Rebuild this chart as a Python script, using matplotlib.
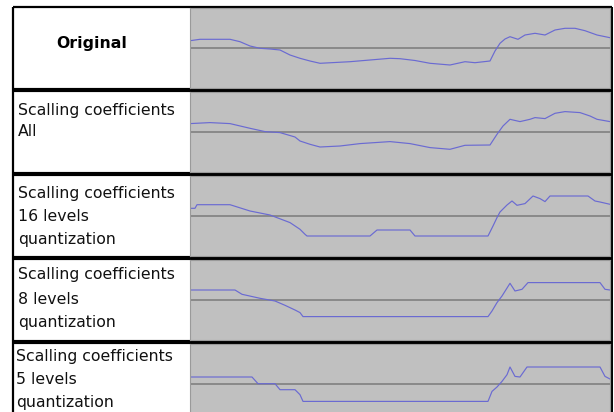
import numpy as np
import matplotlib
matplotlib.use("Agg")
import matplotlib.pyplot as plt

# sample positions / amplitudes
orig_x = [0, 10, 40, 50, 60, 70, 80, 90, 100, 110, 120, 130, 145, 160, 180, 200, 210,
          225, 240, 260, 275, 285, 300, 305, 310, 315, 320, 328, 335, 345, 355, 365,
          375, 385, 395, 407, 420]
orig_y = [7.3, 8.7, 8.7, 6.3, 2.0, -0.3, -1.0, -2.0, -7.0, -10.3, -13.0, -15.3, -14.5,
          -13.7, -12.0, -10.3, -10.7, -12.5, -15.3, -17.0, -13.7, -14.7, -13.0, -3.0,
          4.7, 9.0, 11.3, 8.7, 13.0, 14.7, 13.0, 18.0, 19.7, 19.7, 17.3, 13.0, 10.3]

all_x = [0, 20, 40, 60, 75, 90, 105, 110, 120, 130, 150, 170, 200, 220, 240, 260, 275,
         300, 307, 313, 320, 330, 340, 345, 355, 365, 375, 390, 400, 407, 420]
all_y = [8.4, 9.4, 8.4, 3.7, 0.4, -0.6, -5.0, -9.0, -12.3, -15.0, -14.0, -11.6, -9.6,
         -11.6, -15.6, -17.3, -13.3, -13.0, -2.3, 6.0, 12.7, 10.4, 12.7, 14.4, 13.4,
         18.7, 20.4, 19.4, 16.0, 12.7, 10.4]

q16_x = [0, 5, 7, 40, 60, 80, 100, 110, 115, 117, 180, 187, 220, 225, 298, 303, 307,
         310, 317, 322, 327, 335, 343, 350, 355, 360, 398, 405, 410, 420]
q16_y = [7.7, 7.7, 11.3, 11.3, 5.0, 1.0, -6.6, -13.3, -18.3, -20.0, -20.0, -14.0, -14.0,
         -20.0, -20.0, -10.0, -1.6, 4.0, 11.0, 15.0, 10.7, 12.4, 20.0, 17.4, 14.4, 20.0,
         20.0, 15.0, 14.0, 11.7]

q8_x = [0, 45, 52, 70, 85, 95, 105, 110, 113, 115, 298, 302, 307, 312, 320, 325, 332,
        338, 410, 415, 420]
q8_y = [10.0, 10.0, 5.7, 1.7, -1.0, -5.3, -10.0, -12.6, -16.6, -16.6, -16.6, -11.0,
        -2.6, 4.0, 16.7, 9.0, 10.7, 17.4, 17.4, 10.7, 10.0]

q5_x = [0, 62, 68, 85, 90, 105, 110, 113, 115, 298, 302, 307, 312, 317, 320, 325, 330,
        337, 410, 415, 420]
q5_y = [7.0, 7.0, 0.3, 0.3, -5.7, -5.7, -10.7, -17.4, -17.4, -17.4, -7.4, -3.0, 2.6,
        9.3, 17.0, 7.6, 7.0, 17.0, 17.0, 7.6, 5.0]

row_labels = [
    ["Original"],
    ["Scalling coefficients", "All"],
    ["Scalling coefficients", "16 levels", "quantization"],
    ["Scalling coefficients", "8 levels", "quantization"],
    ["Scalling coefficients", "5 levels", "quantization"],
]
series = [(orig_x, orig_y), (all_x, all_y), (q16_x, q16_y), (q8_x, q8_y), (q5_x, q5_y)]

W, H = 614, 412
fig = plt.figure(figsize=(W / 100, H / 100), dpi=100)
fig.patch.set_facecolor("white")

# pixel-space frame for borders and labels
frame = fig.add_axes([0, 0, 1, 1])
frame.set_xlim(0, W)
frame.set_ylim(H, 0)
frame.axis("off")

row_tops = [8, 92, 176, 260, 344]
row_h = 80
plot_left, plot_right = 190, 610
line_offsets = [[35], [18, 40], [17, 40, 63], [15, 39, 63], [13, 35, 59]]

# outer frame
frame.plot([13, 13], [7, H], color="black", lw=1.6, solid_capstyle="butt")
frame.plot([13, 611.5], [7, 7], color="black", lw=1.6, solid_capstyle="butt")
frame.plot([611.5, 611.5], [7, H], color="black", lw=1.4, solid_capstyle="butt")
for top in row_tops[1:]:
    frame.plot([13, 612], [top - 2, top - 2], color="black", lw=3.0, solid_capstyle="butt")

for i, (top, labels) in enumerate(zip(row_tops, row_labels)):
    if i == 0:
        frame.text(92, top + line_offsets[i][0], labels[0], ha="center", va="center",
                   fontsize=11.3, fontweight="bold", family="DejaVu Sans")
    else:
        xl = 16.5 if i == 4 else 18
        for text, off in zip(labels, line_offsets[i]):
            frame.text(xl, top + off, text, ha="left", va="center",
                       fontsize=11.3, family="DejaVu Sans", color="#111111")

    ax = fig.add_axes([plot_left / W, 1 - (top + row_h) / H,
                       (plot_right - plot_left) / W, row_h / H])
    ax.set_facecolor("#c0c0c0")
    ax.set_xlim(0, 420)
    ax.set_ylim(-40, 40)
    ax.set_xticks([])
    ax.set_yticks([])
    for sp in ax.spines.values():
        sp.set_color("#9a9a9a")
        sp.set_linewidth(0.8)
    ax.axhline(0, color="#7a7a7a", lw=1.1)
    xs, ys = series[i]
    ax.plot(xs, ys, color="#6a6ad2", lw=0.85)

fig.savefig("out.png", dpi=100)
